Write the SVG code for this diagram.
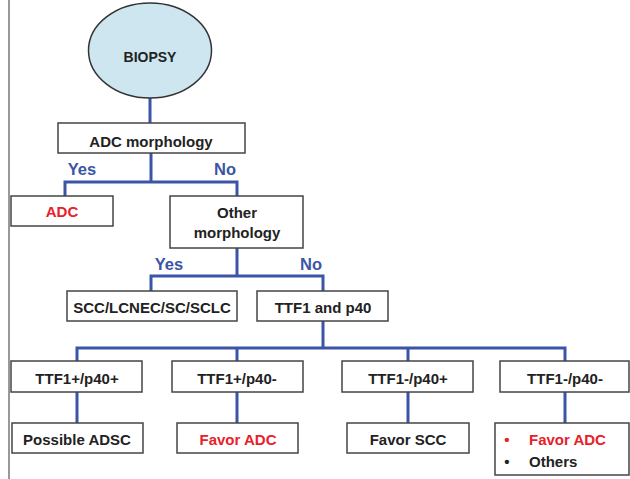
<svg xmlns="http://www.w3.org/2000/svg" width="630" height="479" viewBox="0 0 630 479">
<style>
.box{fill:#fff;stroke:#444;stroke-width:1.5}
.t{font-family:"Liberation Sans",Arial,sans-serif;font-weight:bold;font-size:15px;fill:#222;text-anchor:middle}
.red{fill:#e8202a}
.lbl{font-family:"Liberation Sans",Arial,sans-serif;font-weight:bold;font-size:16.5px;fill:#3b55a6;text-anchor:middle}
.c{fill:none;stroke:#3a55a8;stroke-width:3}
</style>
<rect width="630" height="479" fill="#fff"/>
<line x1="9" y1="0" x2="9" y2="479" stroke="#333" stroke-width="1"/>
<g id="connectors">
<path class="c" d="M150,98 V123"/>
<path class="c" d="M151,153 V182 M65,197 V182 H237 V197"/>
<path class="c" d="M237,248 V276 M151,292 V276 H323 V292"/>
<path class="c" d="M323,321 V348 M77,362 V348 H565 V362 M237,348 V362 M408,348 V362"/>
<path class="c" d="M77,392 V424 M237,392 V424 M408,392 V424 M565,392 V424"/>
</g>
<g id="labels">
<text class="lbl" x="82" y="175">Yes</text>
<text class="lbl" x="225" y="175">No</text>
<text class="lbl" x="169" y="270">Yes</text>
<text class="lbl" x="311" y="270">No</text>
</g>
<g id="biopsy">
<ellipse cx="150" cy="50.5" rx="61.5" ry="47.5" fill="#cde6ef" stroke="#333" stroke-width="1.5"/>
<text class="t" x="150" y="62" style="font-size:14px">BIOPSY</text>
</g>
<g id="adc-morphology">
<rect class="box" x="58" y="123" width="187" height="30"/>
<text class="t" x="151" y="147">ADC morphology</text>
</g>
<g id="adc">
<rect class="box" x="11" y="196" width="102" height="30"/>
<text class="t red" x="62" y="217">ADC</text>
</g>
<g id="other-morphology">
<rect class="box" x="170" y="196" width="133" height="52"/>
<text class="t" x="237" y="218">Other</text>
<text class="t" x="237" y="238">morphology</text>
</g>
<g id="scc">
<rect class="box" x="67" y="291" width="170" height="30"/>
<text class="t" x="152" y="313">SCC/LCNEC/SC/SCLC</text>
</g>
<g id="ttf1-p40">
<rect class="box" x="257" y="291" width="131" height="30"/>
<text class="t" x="323" y="313">TTF1 and p40</text>
</g>
<g id="pp">
<rect class="box" x="11" y="361" width="131" height="31"/>
<text class="t" x="77" y="384">TTF1+/p40+</text>
</g>
<g id="pn">
<rect class="box" x="172" y="361" width="131" height="31"/>
<text class="t" x="237" y="384">TTF1+/p40-</text>
</g>
<g id="np">
<rect class="box" x="342" y="361" width="131" height="31"/>
<text class="t" x="408" y="384">TTF1-/p40+</text>
</g>
<g id="nn">
<rect class="box" x="500" y="361" width="129" height="31"/>
<text class="t" x="565" y="384">TTF1-/p40-</text>
</g>
<g id="possible-adsc">
<rect class="box" x="12" y="423" width="131" height="30"/>
<text class="t" x="77" y="445">Possible ADSC</text>
</g>
<g id="favor-adc">
<rect class="box" x="177" y="423" width="121" height="30"/>
<text class="t red" x="238" y="445">Favor ADC</text>
</g>
<g id="favor-scc">
<rect class="box" x="347" y="423" width="122" height="30"/>
<text class="t" x="408" y="445">Favor SCC</text>
</g>
<g id="favor-adc-others">
<rect class="box" x="495" y="423" width="134" height="52"/>
<text class="t red" x="507" y="445">•</text>
<text class="t red" x="529" y="445" text-anchor="start" style="text-anchor:start">Favor ADC</text>
<text class="t" x="507" y="467">•</text>
<text class="t" x="529" y="467" style="text-anchor:start">Others</text>
</g>
</svg>
